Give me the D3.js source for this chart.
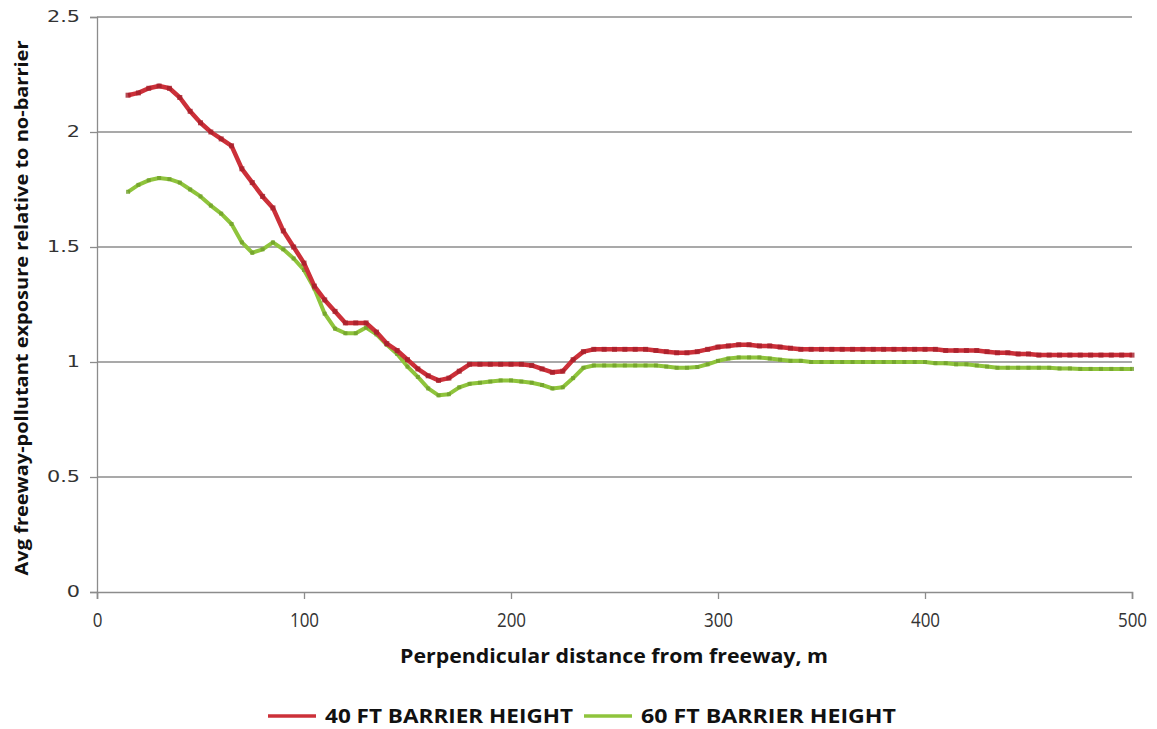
<!DOCTYPE html>
<html><head><meta charset="utf-8">
<script src="https://cdn.jsdelivr.net/npm/d3@7"></script>
<style>body{margin:0;background:#fff}svg{display:block}</style>
</head><body>
<svg id="chart" width="1157" height="729"></svg>
<script>
const distances = [15,20,25,30,35,40,45,50,55,60,65,70,75,80,85,90,95,100,105,110,115,120,125,130,135,140,145,150,155,160,165,170,175,180,185,190,195,200,205,210,215,220,225,230,235,240,245,250,255,260,265,270,275,280,285,290,295,300,305,310,315,320,325,330,335,340,345,350,355,360,365,370,375,380,385,390,395,400,405,410,415,420,425,430,435,440,445,450,455,460,465,470,475,480,485,490,495,500];
const barrier40 = [2.16,2.17,2.19,2.20,2.19,2.15,2.09,2.04,2.00,1.97,1.94,1.84,1.78,1.72,1.67,1.57,1.50,1.43,1.33,1.27,1.22,1.17,1.17,1.17,1.13,1.08,1.05,1.01,0.97,0.94,0.92,0.93,0.96,0.99,0.99,0.99,0.99,0.99,0.99,0.985,0.97,0.955,0.96,1.01,1.045,1.055,1.055,1.055,1.055,1.055,1.055,1.05,1.045,1.04,1.04,1.045,1.055,1.065,1.07,1.075,1.075,1.07,1.07,1.065,1.06,1.055,1.055,1.055,1.055,1.055,1.055,1.055,1.055,1.055,1.055,1.055,1.055,1.055,1.055,1.05,1.05,1.05,1.05,1.045,1.04,1.04,1.035,1.035,1.03,1.03,1.03,1.03,1.03,1.03,1.03,1.03,1.03,1.03];
const barrier60 = [1.74,1.77,1.79,1.80,1.795,1.78,1.75,1.72,1.68,1.645,1.60,1.52,1.475,1.49,1.52,1.49,1.45,1.40,1.32,1.21,1.145,1.125,1.125,1.15,1.12,1.075,1.035,0.98,0.935,0.885,0.855,0.86,0.89,0.905,0.91,0.915,0.92,0.92,0.915,0.91,0.90,0.885,0.89,0.93,0.975,0.985,0.985,0.985,0.985,0.985,0.985,0.985,0.98,0.975,0.975,0.978,0.99,1.005,1.015,1.02,1.02,1.02,1.015,1.01,1.005,1.005,1.0,1.0,1.0,1.0,1.0,1.0,1.0,1.0,1.0,1.0,1.0,1.0,0.995,0.995,0.99,0.99,0.985,0.98,0.975,0.975,0.975,0.975,0.975,0.975,0.972,0.972,0.97,0.97,0.97,0.97,0.97,0.97];
const xTicks = [0,100,200,300,400,500];
const yTicks = [0,0.5,1,1.5,2,2.5];
const seriesNames = ["40 FT BARRIER HEIGHT","60 FT BARRIER HEIGHT"];
const xTitle = "Perpendicular distance from freeway, m";
const yTitle = "Avg freeway-pollutant exposure relative to no-barrier";

const svg = d3.select("#chart");
const m = {left:97, right:1132, top:17, bottom:592};
const x = d3.scaleLinear().domain([0,500]).range([m.left, m.right]);
const y = d3.scaleLinear().domain([0,2.5]).range([m.bottom, m.top]);

// gridlines
svg.append("g").selectAll("line").data(yTicks.filter(d=>d>0)).join("line")
  .attr("x1", m.left).attr("x2", m.right)
  .attr("y1", d=>y(d)).attr("y2", d=>y(d))
  .attr("stroke","#8c8c8c").attr("stroke-width",1.3);

// y axis
const yAxis = svg.append("g").attr("transform",`translate(${m.left},0)`)
  .call(d3.axisLeft(y).tickValues(yTicks).tickSize(7).tickFormat(d3.format("")));
yAxis.select(".domain").attr("stroke","#8c8c8c").attr("stroke-width",1.3);
yAxis.selectAll(".tick line").attr("stroke","#8c8c8c").attr("stroke-width",1.3);
yAxis.selectAll(".tick text").attr("x",0).attr("dy",0).attr("dominant-baseline","middle")
  .attr("font-family","DejaVu Sans, Verdana, sans-serif").attr("font-size",16).attr("fill","#333")
  .attr("text-anchor","end")
  .attr("transform","translate(-17,0) scale(1.3,1)");

// x axis
const xAxis = svg.append("g").attr("transform",`translate(0,${m.bottom})`)
  .call(d3.axisBottom(x).tickValues(xTicks).tickSize(7).tickFormat(d3.format("")));
xAxis.select(".domain").attr("stroke","#8c8c8c").attr("stroke-width",1.6);
xAxis.selectAll(".tick text").attr("y",0).attr("dy",0)
  .attr("font-family","Open Sans, Liberation Sans, sans-serif").attr("font-size",20).attr("fill","#333")
  .attr("transform","translate(0,35) scale(0.85,1)");
xAxis.selectAll(".tick line").attr("stroke","#8c8c8c").attr("stroke-width",1.3);

// titles
svg.append("text").attr("x",614).attr("y",663).attr("text-anchor","middle")
  .attr("font-family","Open Sans, Liberation Sans, sans-serif").attr("font-weight","bold")
  .attr("font-size",19).attr("fill","#111")
  .attr("textLength",428).attr("lengthAdjust","spacingAndGlyphs").text(xTitle);
svg.append("text").attr("transform","translate(28,308) rotate(-90)").attr("text-anchor","middle")
  .attr("font-family","Open Sans, Liberation Sans, sans-serif").attr("font-weight","bold")
  .attr("font-size",18).attr("fill","#111")
  .attr("textLength",535).attr("lengthAdjust","spacingAndGlyphs").text(yTitle);

// lines
const series = [
  {name:seriesNames[0], values:barrier40, color:"#cc3039", mark:"#a51f2a", w:4.5, sz:5},
  {name:seriesNames[1], values:barrier60, color:"#8fc43c", mark:"#6f9f2a", w:4, sz:4}
];
const line = d3.line().x((d,i)=>x(distances[i])).y(d=>y(d));
series.slice().reverse().forEach(s=>{
  svg.append("path").datum(s.values).attr("d",line).attr("fill","none")
    .attr("stroke",s.color).attr("stroke-width",s.w).attr("stroke-linejoin","round");
  svg.append("g").selectAll("rect").data(s.values).join("rect")
    .attr("x",(d,i)=>x(distances[i])-s.sz/2).attr("y",d=>y(d)-s.sz/2)
    .attr("width",s.sz).attr("height",s.sz).attr("fill",s.mark).attr("opacity",0.8);
});

// legend
const leg = [{x1:268,x2:316,tx:325,tl:248},{x1:584,x2:632,tx:641,tl:255}];
series.forEach((s,i)=>{
  svg.append("line").attr("x1",leg[i].x1).attr("x2",leg[i].x2).attr("y1",716).attr("y2",716)
    .attr("stroke",s.color).attr("stroke-width",3.5);
  svg.append("text").attr("x",leg[i].tx).attr("y",723)
    .attr("font-family","Open Sans, Liberation Sans, sans-serif").attr("font-weight","bold")
    .attr("font-size",19).attr("fill","#111")
    .attr("textLength",leg[i].tl).attr("lengthAdjust","spacingAndGlyphs").text(s.name);
});
</script>
</body></html>
